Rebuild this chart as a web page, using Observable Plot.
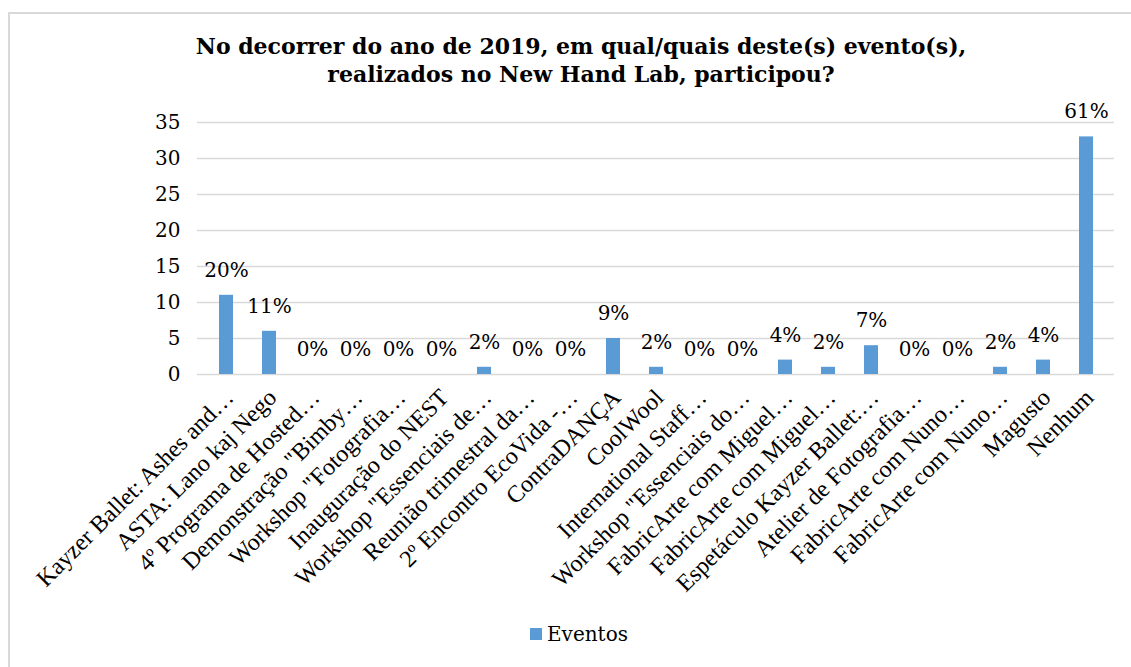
<!DOCTYPE html>
<html>
<head>
<meta charset="utf-8">
<script src="https://cdn.jsdelivr.net/npm/d3@7"></script>
<script src="https://cdn.jsdelivr.net/npm/@observablehq/plot@0.6"></script>
<style>
  html, body { margin: 0; padding: 0; background: #fff; }
  #page { position: relative; width: 1131px; height: 667px; overflow: hidden; }
  #frame { position: absolute; left: 8px; top: 12px; width: 1140px; height: 680px; border: 2px solid #d9d9d9; box-sizing: border-box; }
  #title { position: absolute; left: 141px; width: 880px; top: 32px; text-align: center;
    font-family: "DejaVu Serif", serif; font-weight: bold; font-size: 22px; line-height: 28px; color: #000; }
  #chart { position: absolute; left: 0; top: 90px; }
  #legend { position: absolute; left: 530px; top: 622px; font-family: "DejaVu Serif", serif; font-size: 20px; color: #000; display: flex; align-items: center; }
  #legend .sw { width: 12px; height: 12px; background: #5b9bd5; margin-right: 5px; }
</style>
</head>
<body>
<div id="page">
  <div id="frame"></div>
  <div id="title">No decorrer do ano de 2019, em qual/quais deste(s) evento(s),<br>realizados no New Hand Lab, participou?</div>
  <div id="chart"></div>
  <div id="legend"><div class="sw"></div><span>Eventos</span></div>
</div>
<script>
const categories = [
  "Kayzer Ballet: Ashes and…",
  "ASTA: Lano kaj Nego",
  "4º Programa de Hosted…",
  "Demonstração \"Bimby…",
  "Workshop \"Fotografia…",
  "Inauguração do NEST",
  "Workshop \"Essenciais de…",
  "Reunião trimestral da…",
  "2º Encontro EcoVida -…",
  "ContraDANÇA",
  "CoolWool",
  "International Staff…",
  "Workshop \"Essenciais do…",
  "FabricArte com Miguel…",
  "FabricArte com Miguel…",
  "Espetáculo Kayzer Ballet:…",
  "Atelier de Fotografia…",
  "FabricArte com Nuno…",
  "FabricArte com Nuno…",
  "Magusto",
  "Nenhum"
];
const values = [11, 6, 0, 0, 0, 0, 1, 0, 0, 5, 1, 0, 0, 2, 1, 4, 0, 0, 1, 2, 33];
const percentLabels = ["20%", "11%", "0%", "0%", "0%", "0%", "2%", "0%", "0%", "9%", "2%", "0%", "0%", "4%", "2%", "7%", "0%", "0%", "2%", "4%", "61%"];
const yTicks = [0, 5, 10, 15, 20, 25, 30, 35];

const data = values.map((v, i) => ({i, v, label: percentLabels[i]}));

const chart = Plot.plot({
  width: 1131,
  height: 530,
  marginLeft: 197,
  marginRight: 17,
  marginTop: 32,
  marginBottom: 246,
  style: {background: "transparent", fontFamily: "DejaVu Serif, serif", fontSize: "20px", color: "#000"},
  x: {domain: d3.range(categories.length), paddingInner: 0.68, paddingOuter: 0.34, label: null},
  y: {domain: [0, 35], ticks: yTicks, label: null},
  marks: [
    Plot.gridY(yTicks, {stroke: "#d9d9d9", strokeOpacity: 1, strokeWidth: 1.5}),
    Plot.barY(data, {x: "i", y: "v", fill: "#5b9bd5"}),
    Plot.text(data, {x: "i", y: "v", text: "label", dy: -25, fontSize: 20, fill: "#000"}),
    Plot.axisY({ticks: yTicks, tickSize: 0, tickPadding: 17, fontSize: 20, label: null}),
    Plot.axisX({tickFormat: i => categories[i], tickRotate: -45, tickSize: 0, tickPadding: 19, dx: 3,
      fontSize: 24, fontFamily: "Liberation Serif, serif", label: null})
  ]
});
document.getElementById("chart").appendChild(chart);
</script>
</body>
</html>
